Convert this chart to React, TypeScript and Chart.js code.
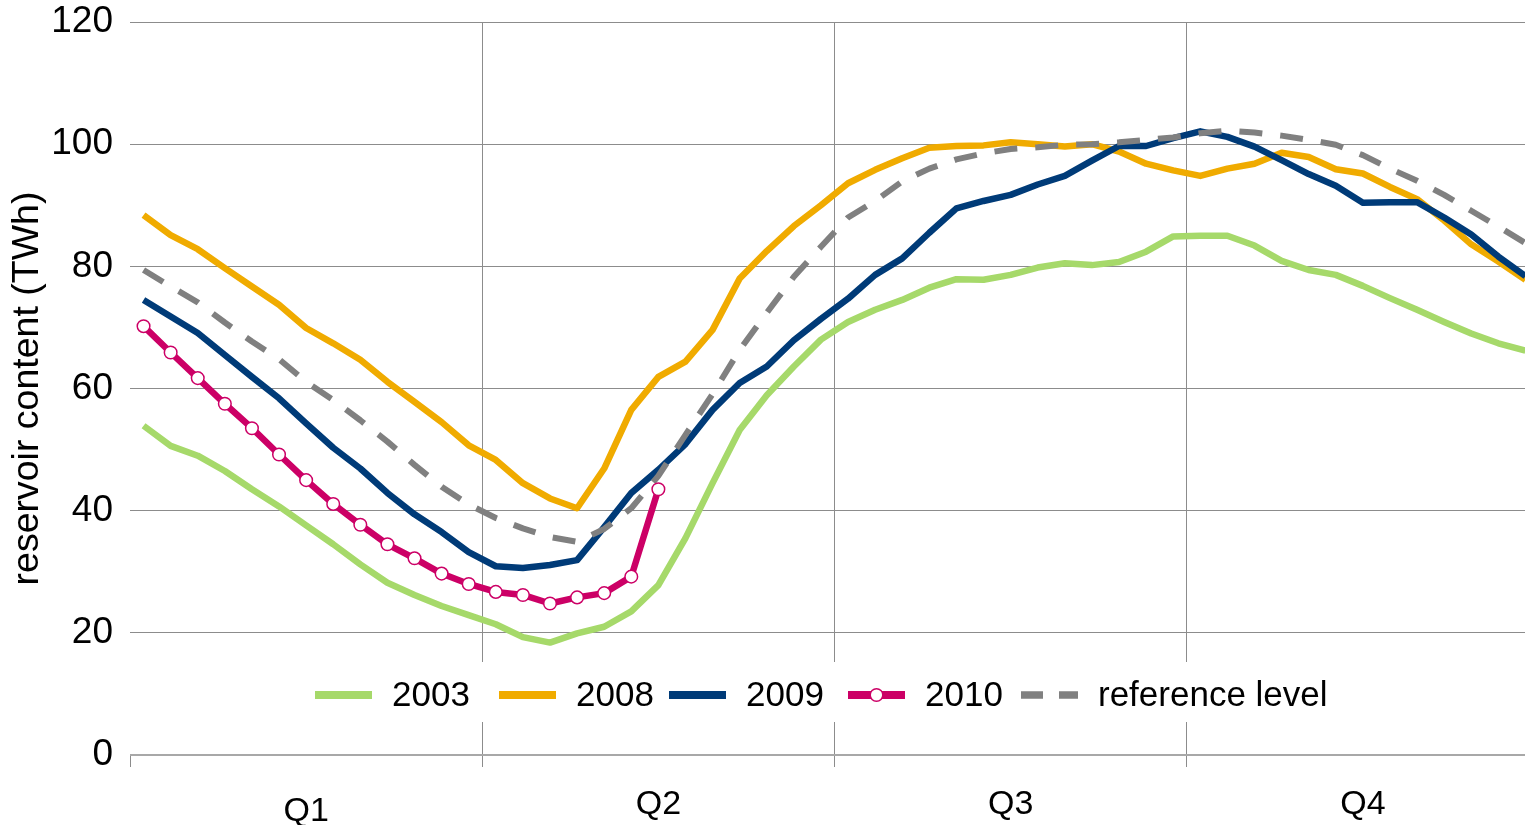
import React, { useEffect, useRef } from "react";
import { Chart, registerables } from "chart.js";

Chart.register(...registerables);

const weeks = [
  "1", "2", "3", "4", "5", "6", "7", "8", "9", "10", "11", "12", "13",
  "14", "15", "16", "17", "18", "19", "20", "21", "22", "23", "24", "25", "26",
  "27", "28", "29", "30", "31", "32", "33", "34", "35", "36", "37", "38", "39",
  "40", "41", "42", "43", "44", "45", "46", "47", "48", "49", "50", "51", "52",
];

const quarters = ["Q1", "Q2", "Q3", "Q4"];

const yTicks = [0, 20, 40, 60, 80, 100, 120];

const series2003 = [
  53.9, 50.6, 49.0, 46.5, 43.5, 40.7, 37.6, 34.5, 31.2, 28.2, 26.2, 24.4, 22.9,
  21.4, 19.3, 18.4, 19.9, 21.0, 23.5, 27.8, 35.5, 44.5, 53.2, 58.9, 63.6, 68.0,
  70.9, 72.9, 74.5, 76.5, 77.9, 77.8, 78.6, 79.8, 80.5, 80.2, 80.7, 82.4, 84.9,
  85.0, 85.0, 83.4, 80.9, 79.4, 78.6, 76.8, 74.8, 72.9, 70.9, 69.0, 67.4, 66.2,
];

const series2008 = [
  88.4, 85.1, 82.8, 79.7, 76.7, 73.7, 69.9, 67.4, 64.7, 61.1, 57.8, 54.5, 50.7,
  48.3, 44.5, 42.0, 40.4, 46.9, 56.5, 61.9, 64.4, 69.6, 78.0, 82.5, 86.6, 90.0,
  93.6, 95.8, 97.7, 99.4, 99.7, 99.8, 100.3, 100.0, 99.6, 100.0, 98.8, 96.8, 95.7,
  94.8, 96.0, 96.8, 98.6, 97.9, 95.9, 95.2, 93.0, 91.0, 87.5, 83.6, 80.8, 77.8,
];

const series2009 = [
  74.5, 71.8, 69.1, 65.5, 61.9, 58.4, 54.3, 50.3, 46.9, 42.9, 39.4, 36.5, 33.2,
  30.9, 30.6, 31.1, 31.9, 37.3, 42.9, 46.7, 50.9, 56.5, 60.9, 63.6, 67.9, 71.4,
  74.7, 78.6, 81.3, 85.5, 89.5, 90.7, 91.7, 93.4, 94.8, 97.3, 99.7, 99.7, 101.0,
  102.1, 101.2, 99.6, 97.4, 95.1, 93.2, 90.4, 90.5, 90.5, 88.0, 85.2, 81.6, 78.4,
];

const series2010 = [
  70.2, 65.9, 61.7, 57.5, 53.5, 49.2, 45.0, 41.1, 37.7, 34.5, 32.2, 29.7, 28.0,
  26.7, 26.2, 24.8, 25.8, 26.5, 29.2, 43.5,
];

const seriesReference = [
  79.4, 76.7, 74.1, 70.8, 67.7, 64.8, 61.1, 58.1, 54.8, 51.3, 47.5, 43.9, 41.0,
  38.8, 37.1, 35.7, 34.9, 37.0, 40.4, 45.7, 52.4, 59.1, 66.3, 72.4, 78.3, 83.2,
  88.0, 90.7, 93.9, 96.0, 97.5, 98.5, 99.2, 99.5, 99.9, 100.0, 100.3, 100.7, 101.1,
  101.8, 102.2, 101.9, 101.4, 100.7, 99.9, 98.2, 96.0, 94.0, 91.7, 89.1, 86.5, 83.8,
];

const FONT = '"Liberation Sans", Arial, Helvetica, sans-serif';

const insideLegend = {
  id: "insideLegend",
  afterDraw(chart: any) {
    const ctx = chart.ctx;
    const xs = [315, 499, 669, 848, 1021];
    const y = 695;
    ctx.save();
    ctx.fillStyle = "#ffffff";
    ctx.fillRect(300, 662, 1036, 60);
    chart.data.datasets.forEach((ds: any, k: number) => {
      const x = xs[k];
      ctx.strokeStyle = ds.borderColor;
      ctx.lineWidth = ds.borderWidth + 1.5;
      ctx.lineCap = "butt";
      ctx.setLineDash(ds.borderDash ? [22, 16] : []);
      ctx.beginPath();
      ctx.moveTo(x, y);
      ctx.lineTo(x + 57, y);
      ctx.stroke();
      ctx.setLineDash([]);
      if (ds.pointRadius && ds.pointRadius > 0) {
        ctx.beginPath();
        ctx.arc(x + 28.5, y, ds.pointRadius, 0, Math.PI * 2);
        ctx.fillStyle = ds.pointBackgroundColor;
        ctx.fill();
        ctx.lineWidth = ds.pointBorderWidth;
        ctx.strokeStyle = ds.pointBorderColor;
        ctx.stroke();
      }
      ctx.fillStyle = "#000000";
      ctx.font = `35px ${FONT}`;
      ctx.textBaseline = "middle";
      ctx.textAlign = "left";
      ctx.fillText(ds.label, x + 77, y + 1);
    });
    ctx.restore();
  },
};

export default function App() {
  const canvasRef = useRef<HTMLCanvasElement | null>(null);

  useEffect(() => {
    const canvas = canvasRef.current;
    if (!canvas) return;
    const chart = new Chart(canvas, {
      type: "line",
      data: {
        labels: weeks,
        datasets: [
          {
            label: "2003",
            data: series2003,
            borderColor: "#A6D96A",
            backgroundColor: "#A6D96A",
            borderWidth: 6.5,
            pointRadius: 0,
            tension: 0,
            order: 5,
          },
          {
            label: "2008",
            data: series2008,
            borderColor: "#F0AB00",
            backgroundColor: "#F0AB00",
            borderWidth: 6.5,
            pointRadius: 0,
            tension: 0,
            order: 4,
          },
          {
            label: "2009",
            data: series2009,
            borderColor: "#003B78",
            backgroundColor: "#003B78",
            borderWidth: 6.5,
            pointRadius: 0,
            tension: 0,
            order: 3,
          },
          {
            label: "2010",
            data: series2010,
            borderColor: "#CC0066",
            backgroundColor: "#CC0066",
            borderWidth: 6.5,
            pointRadius: 6.3,
            pointBorderWidth: 1.5,
            pointBackgroundColor: "#ffffff",
            pointBorderColor: "#CC0066",
            tension: 0,
            order: 1,
          },
          {
            label: "reference level",
            data: seriesReference,
            borderColor: "#808080",
            backgroundColor: "#808080",
            borderWidth: 6,
            borderDash: [23, 18],
            borderCapStyle: "butt",
            pointRadius: 0,
            tension: 0,
            order: 2,
          },
        ],
      },
      options: {
        responsive: false,
        animation: false,
        layout: { autoPadding: false, padding: { top: 22, right: 0, bottom: 0, left: 0 } },
        plugins: {
          legend: { display: false },
          tooltip: { enabled: false },
        },
        elements: { line: { borderJoinStyle: "round" } },
        scales: {
          x: {
            type: "category",
            display: false,
            offset: true,
            afterFit: (scale: any) => {
              scale.paddingLeft = 0;
              scale.paddingRight = 0;
            },
          },
          xq: {
            type: "category",
            position: "bottom",
            labels: quarters,
            offset: true,
            border: { display: false },
            grid: {
              offset: true,
              color: (c: any) => (c.index === 0 ? "rgba(0,0,0,0)" : "#8c8c8c"),
              tickColor: "#8c8c8c",
              tickLength: 12,
              lineWidth: 1,
            },
            ticks: {
              color: "#000000",
              font: (c: any) => ({
                family: FONT,
                size: 34,
                lineHeight: c.index === 0 ? 1.6 : 1.2,
              }),
              padding: 17,
              maxRotation: 0,
              autoSkip: false,
            },
            afterFit: (scale: any) => {
              scale.height = 70;
              scale.paddingLeft = 0;
              scale.paddingRight = 0;
            },
          },
          y: {
            min: 0,
            max: 120,
            border: { display: false },
            grid: {
              drawTicks: false,
              color: (c: any) => (c.tick && c.tick.value === 0 ? "#a8a8a8" : "#8c8c8c"),
              lineWidth: (c: any) => (c.tick && c.tick.value === 0 ? 2 : 1),
            },
            afterBuildTicks: (scale: any) => {
              scale.ticks = yTicks.map((v) => ({ value: v }));
            },
            ticks: {
              color: "#000000",
              font: { family: FONT, size: 37 },
              padding: 17,
            },
            title: {
              display: true,
              text: "reservoir content (TWh)",
              color: "#000000",
              font: { family: FONT, size: 37.5 },
              padding: { top: 5, bottom: 0 },
            },
            afterFit: (scale: any) => {
              scale.width = 130;
              scale.paddingTop = 0;
              scale.paddingBottom = 0;
            },
          },
        },
      },
      plugins: [insideLegend],
    });
    return () => chart.destroy();
  }, []);

  return (
    <div
      style={{
        position: "fixed",
        left: 0,
        top: 0,
        width: 1525,
        height: 825,
        overflow: "hidden",
        background: "#ffffff",
      }}
    >
      <canvas ref={canvasRef} width={1539} height={825} style={{ display: "block" }} />
    </div>
  );
}
